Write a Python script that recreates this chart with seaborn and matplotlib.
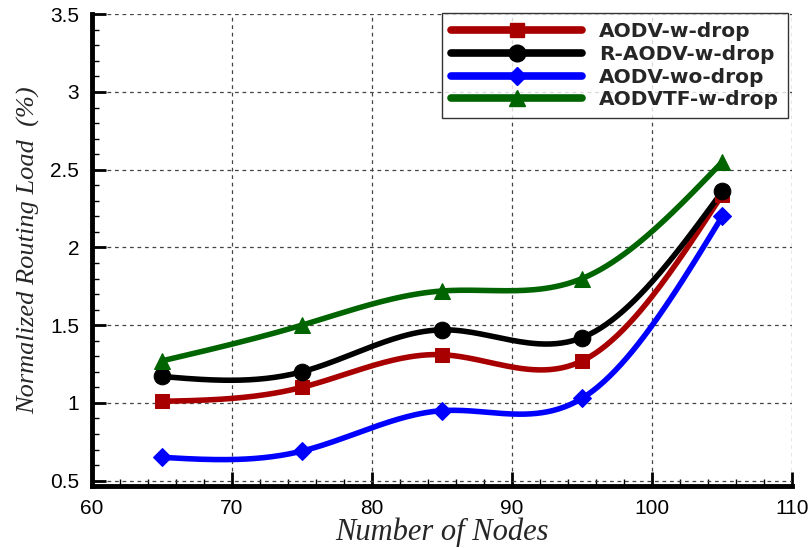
import numpy as np
import pandas as pd
import matplotlib
matplotlib.use("Agg")
import matplotlib.pyplot as plt
import seaborn as sns
from matplotlib.ticker import MultipleLocator, FuncFormatter

nodes = [65, 75, 85, 95, 105]
aodv_w_drop = [1.01, 1.10, 1.31, 1.27, 2.34]
raodv_w_drop = [1.17, 1.20, 1.47, 1.42, 2.36]
aodv_wo_drop = [0.65, 0.69, 0.95, 1.03, 2.20]
aodvtf_w_drop = [1.27, 1.50, 1.72, 1.80, 2.55]

series = {
    "AODV-w-drop": aodv_w_drop,
    "R-AODV-w-drop": raodv_w_drop,
    "AODV-wo-drop": aodv_wo_drop,
    "AODVTF-w-drop": aodvtf_w_drop,
}
colors = {"AODV-w-drop": "#a80000", "R-AODV-w-drop": "#000000",
          "AODV-wo-drop": "#0000ff", "AODVTF-w-drop": "#006400"}
markers = {"AODV-w-drop": "s", "R-AODV-w-drop": "o",
           "AODV-wo-drop": "D", "AODVTF-w-drop": "^"}
msizes = {"AODV-w-drop": 10, "R-AODV-w-drop": 12,
          "AODV-wo-drop": 9, "AODVTF-w-drop": 12}


def natural_spline(x, y, n=200):
    x = np.asarray(x, float); y = np.asarray(y, float)
    m = len(x); h = np.diff(x)
    A = np.zeros((m, m)); b = np.zeros(m)
    A[0, 0] = A[-1, -1] = 1
    for i in range(1, m - 1):
        A[i, i - 1] = h[i - 1]; A[i, i] = 2 * (h[i - 1] + h[i]); A[i, i + 1] = h[i]
        b[i] = 3 * ((y[i + 1] - y[i]) / h[i] - (y[i] - y[i - 1]) / h[i - 1])
    c = np.linalg.solve(A, b)
    xs = np.linspace(x[0], x[-1], n)
    idx = np.clip(np.searchsorted(x, xs) - 1, 0, m - 2)
    dx = xs - x[idx]
    bb = (y[idx + 1] - y[idx]) / h[idx] - h[idx] * (2 * c[idx] + c[idx + 1]) / 3
    dd = (c[idx + 1] - c[idx]) / (3 * h[idx])
    ys = y[idx] + bb * dx + c[idx] * dx ** 2 + dd * dx ** 3
    return xs, ys


sns.set_style("white")
fig = plt.figure(figsize=(8.11, 5.48), dpi=100)
ax = fig.add_axes([0.113, 0.113, 0.864, 0.861])

for name, vals in series.items():
    xs, ys = natural_spline(nodes, vals)
    sns.lineplot(x=xs, y=ys, ax=ax, color=colors[name], lw=4, legend=False, zorder=3)
    sns.lineplot(x=nodes, y=vals, ax=ax, color=colors[name], lw=0, marker=markers[name],
                 markersize=msizes[name], markeredgecolor=colors[name], legend=False, zorder=4)

handles = [plt.Line2D([], [], color=colors[n], lw=5.5, marker=markers[n],
                      markersize=msizes[n], markeredgecolor=colors[n],
                      solid_capstyle="round") for n in series]
leg = ax.legend(handles, list(series.keys()), loc="upper right", bbox_to_anchor=(0.994, 1.002),
                frameon=True, fancybox=False, handlelength=6.5, handletextpad=0.85,
                borderpad=0.45, labelspacing=0.18, borderaxespad=0.0,
                prop={"weight": "bold", "size": 14.5, "family": "DejaVu Sans"})
leg.get_frame().set_edgecolor("black")
leg.get_frame().set_linewidth(1.0)

ax.set_xlim(60, 110)
ax.set_ylim(0.465, 3.5)
ax.xaxis.set_major_locator(MultipleLocator(10))
ax.xaxis.set_minor_locator(MultipleLocator(2))
ax.yaxis.set_major_locator(MultipleLocator(0.5))
ax.yaxis.set_minor_locator(MultipleLocator(0.1))
ax.yaxis.set_major_formatter(FuncFormatter(lambda v, p: f"{v:g}"))
ax.tick_params(which="major", direction="in", length=10, width=2, labelsize=15,
               pad=9, colors="black")
ax.tick_params(which="minor", direction="in", length=5, width=1, colors="black")
ax.tick_params(axis="x", which="both", bottom=True)
ax.tick_params(axis="y", which="both", left=True)
for lbl in ax.get_xticklabels() + ax.get_yticklabels():
    lbl.set_family("Liberation Sans")
ax.grid(True, which="major", linestyle=(0, (3, 3)), color="#444444", lw=0.9)
for s in ["top", "right"]:
    ax.spines[s].set_visible(False)
for s in ["left", "bottom"]:
    ax.spines[s].set_linewidth(3.5)
    ax.spines[s].set_color("black")

ax.set_xlabel("Number of Nodes", fontsize=22, family="Liberation Serif", style="italic", labelpad=0)
ax.set_ylabel("Normalized Routing Load  (%)", fontsize=19, family="Liberation Serif",
              style="italic", labelpad=7)

fig.savefig("out.png", dpi=100)
